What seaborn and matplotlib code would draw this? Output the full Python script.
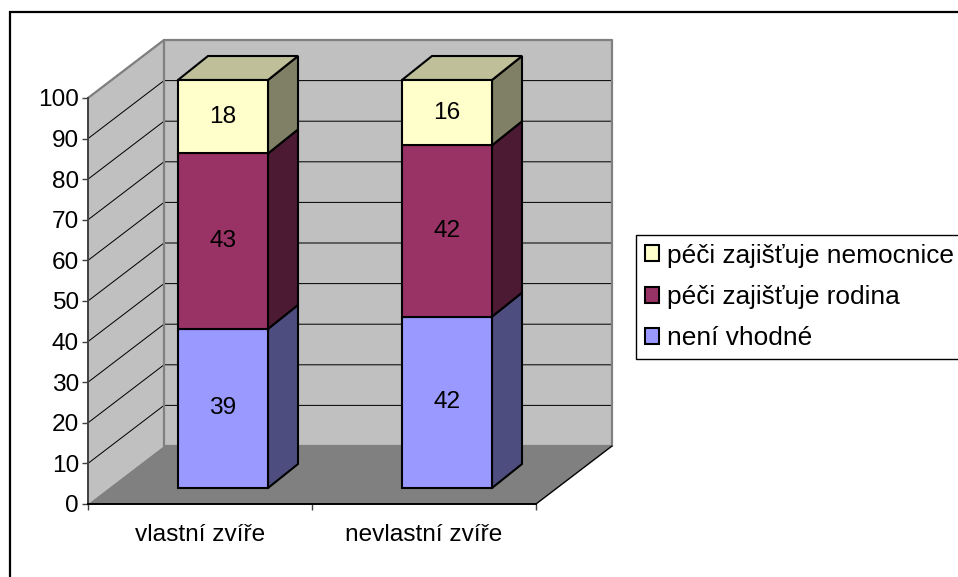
import numpy as np
import seaborn as sns
import matplotlib.pyplot as plt
from matplotlib.patches import Patch, Rectangle

# Chart data
categories = ['vlastní zvíře', 'nevlastní zvíře']
series_names = ['není vhodné', 'péči zajišťuje rodina', 'péči zajišťuje nemocnice']
neni_vhodne = [39, 42]
rodina = [43, 42]
nemocnice = [18, 16]
y_ticks = list(range(0, 101, 10))

front_colors = ['#9999FF', '#993366', '#FFFFCC']
side_colors = ['#4D4D80', '#4D1A33', '#808066']
top_color = '#BFBF99'

W, H = 958, 577
sns.set_style('white')
plt.rcParams['font.family'] = ['Liberation Sans', 'DejaVu Sans']
plt.rcParams['font.size'] = 17.6
plt.rcParams['text.color'] = 'black'
plt.rcParams['xtick.labelcolor'] = 'black'
plt.rcParams['ytick.labelcolor'] = 'black'

fig = plt.figure(figsize=(W / 100, H / 100), dpi=100)
ax = fig.add_axes([88 / W, 1 - 504 / H, 448 / W, 406 / H])
ax.set_facecolor('none')

# Outer chart frame, runs off the right and bottom edge
fig.add_artist(Rectangle((10 / W, -0.1), 1.1, 1 - 12 / H + 0.1, transform=fig.transFigure,
                         fill=False, edgecolor='black', linewidth=1.6))

# Oblique depth of the box and of the bars, in data units
px_x = 2 / 448
px_y = 100 / 406
box_dx, box_dy = 76 * px_x, 58 * px_y
bar_dx, bar_dy = 30 * px_x, 24 * px_y
shift_x, shift_y = 23 * px_x, 16 * px_y
bar_scale = 408 / 406

# Draw the front faces with seaborn
bottom = np.zeros(2)
for values, color in zip([neni_vhodne, rodina, nemocnice], front_colors):
    sns.barplot(x=categories, y=values, bottom=bottom, color=color, saturation=1,
                width=90 / 224, edgecolor='black', linewidth=1.5, ax=ax, zorder=5)
    bottom = bottom + np.array(values)
patches = list(ax.patches)

ax.set_xlim(-0.5, 1.5)
ax.set_ylim(0, 100)

x0, x1 = ax.get_xlim()

# Walls and floor
ax.fill([x0, x0 + box_dx, x0 + box_dx, x0], [0, box_dy, 100 + box_dy, 100],
        color='#C0C0C0', ec='none', zorder=1, clip_on=False)
ax.fill([x0 + box_dx, x1 + box_dx, x1 + box_dx, x0 + box_dx],
        [box_dy, box_dy, 100 + box_dy, 100 + box_dy],
        color='#C0C0C0', ec='none', zorder=1, clip_on=False)
ax.fill([x0, x1, x1 + box_dx, x0 + box_dx], [0, 0, box_dy, box_dy],
        color='#808080', ec='none', zorder=2, clip_on=False)

# Gridlines on both walls
for v in y_ticks[1:]:
    ax.plot([x0, x0 + box_dx, x1 + box_dx], [v, v + box_dy, v + box_dy],
            color='#000000', lw=0.72, zorder=1.5, clip_on=False)

# Grey wall outline on top of the gridlines
ax.plot([x0, x0 + box_dx, x1 + box_dx, x1 + box_dx, x0 + box_dx, x0 + box_dx],
        [100, 100 + box_dy, 100 + box_dy, box_dy, box_dy, 100 + box_dy],
        color='#808080', lw=1.6, zorder=1.8, clip_on=False)
ax.plot([x1, x1 + box_dx], [0, box_dy], color='black', lw=1, zorder=2.5, clip_on=False)

# Move the bars into the box and add sides, tops and labels
n_bars = len(categories)
labels = neni_vhodne + rodina + nemocnice
for i, p in enumerate(patches):
    s = i // n_bars
    px = p.get_x() + shift_x
    py = p.get_y() * bar_scale + shift_y
    w = p.get_width()
    h = p.get_height() * bar_scale
    p.set_x(px)
    p.set_y(py)
    p.set_height(h)
    p.set_clip_on(False)
    ax.fill([px + w, px + w + bar_dx, px + w + bar_dx, px + w],
            [py, py + bar_dy, py + h + bar_dy, py + h],
            facecolor=side_colors[s], edgecolor='black', lw=1.5, zorder=4, clip_on=False)
    if s == 2:
        ax.fill([px, px + w, px + w + bar_dx, px + bar_dx],
                [py + h, py + h, py + h + bar_dy, py + h + bar_dy],
                facecolor=top_color, edgecolor='black', lw=1.5, zorder=4, clip_on=False)
    ax.text(px + w / 2, py + h / 2, str(labels[i]), ha='center', va='center',
            fontsize=17.6, color='black', zorder=6)

# Axes: ticks on category boundaries, labels centred between them
ax.set_yticks(y_ticks)
ax.set_xticks([-0.5, 0.5, 1.5])
ax.set_xticklabels([])
ax.set_xticks([0, 1], minor=True)
ax.set_xticklabels(categories, minor=True, fontsize=17.6)
ax.tick_params(axis='x', which='major', length=4.5, width=1, color='#404040', bottom=True)
ax.tick_params(axis='x', which='minor', length=0, pad=14.5, bottom=True)
ax.tick_params(axis='y', length=4.5, width=1, color='#404040', left=True, pad=2, labelsize=17.6)
ax.set_xlabel('')
ax.set_ylabel('')
for name in ['top', 'right']:
    ax.spines[name].set_visible(False)
ax.spines['left'].set_color('#404040')
ax.spines['left'].set_linewidth(1.4)
ax.spines['left'].set_zorder(3)
ax.spines['bottom'].set_color('black')
ax.spines['bottom'].set_linewidth(1.4)
ax.spines['bottom'].set_zorder(3)

# Legend, reversed like the stack
handles = [Patch(facecolor=c, edgecolor='black', linewidth=1.5, label=n)
           for c, n in zip(front_colors[::-1], series_names[::-1])]
leg = fig.legend(handles=handles, loc='upper left', bbox_to_anchor=(636 / W, 1 - 235 / H),
                 borderaxespad=0, fancybox=False, framealpha=1, edgecolor='black',
                 fontsize=18.9, handlelength=0.55, handleheight=0.55, handletextpad=0.3,
                 labelspacing=0.66, borderpad=0.33)
leg.get_frame().set_linewidth(1)

plt.savefig('out.png', dpi=100)
plt.close()
